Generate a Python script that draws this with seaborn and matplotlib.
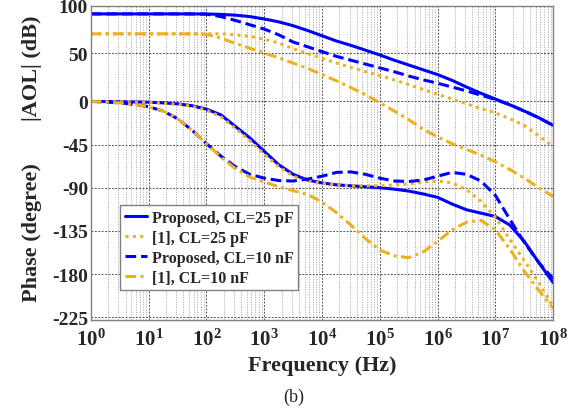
import numpy as np
import matplotlib
matplotlib.use('Agg')
import matplotlib.pyplot as plt
from matplotlib.ticker import LogLocator
import seaborn as sns

# log10 of frequency (Hz) where the curves were read
log_freq = [0, 0.25, 0.5, 0.75, 1, 1.25, 1.5, 1.75, 2, 2.25, 2.5, 2.75, 3, 3.25, 3.5, 3.75,
            4, 4.25, 4.5, 4.75, 5, 5.25, 5.5, 5.75, 6, 6.25, 6.5, 6.75, 7, 7.25, 7.5, 7.75, 8]

# |AOL| (dB)
gain_prop_25p = [91.3, 91.3, 91.3, 91.3, 91.3, 91.3, 91.3, 91.3, 91.2, 90.8, 90, 88.5, 86, 83, 79, 74,
                 68.5, 63, 58.5, 53.5, 48.5, 43, 38, 33, 28, 22, 15, 8.5, 2.5, -3.5, -10, -17, -25]
gain_ref_25p = [70.5, 70.5, 70.5, 70.5, 70.5, 70.5, 70.5, 70.5, 70.5, 70.5, 69.5, 68, 65, 61, 55, 50,
                45, 40, 35.5, 31, 27, 22.5, 17.5, 12.5, 7.5, 2.5, -2.5, -7.5, -12, -18, -25, -36, -47]
gain_prop_10n = [91.3, 91.3, 91.3, 91.3, 91.3, 91.3, 91.3, 91.2, 91, 88.5, 84.5, 80, 75.5, 69.5, 62, 57,
                 52, 47, 43, 39, 35, 31, 26.5, 22.5, 19, 15, 11, 6.5, 2, -3.5, -10, -17, -25]
gain_ref_10n = [70.5, 70.5, 70.5, 70.5, 70.5, 70.5, 70.5, 70.4, 70, 66, 60.5, 55.5, 50.5, 45.5, 40, 34.5,
                28, 21.5, 14.5, 7, -1.5, -10, -19, -29, -37, -44, -50, -56, -63, -71, -80, -90, -99]

# Phase (degree)
phase_prop_25p = [0, -0.1, -0.3, -0.5, -0.8, -1.5, -2.5, -4.5, -8, -14, -26, -38, -52, -66, -76, -82,
                  -85, -87, -88, -89, -90, -91.5, -93.5, -96.5, -100, -107, -113, -116.5, -120, -129, -146, -168, -189]
phase_ref_25p = [0, -0.1, -0.3, -0.6, -1, -1.8, -3, -5, -9, -16, -28, -41, -55, -68, -78, -83,
                 -85.5, -87, -88, -88, -88, -87, -86, -84, -83, -85, -92, -104, -121, -144, -166, -189, -214]
phase_prop_10n = [0, -0.6, -1.5, -3, -5.5, -10, -18, -30, -44, -57, -68, -76, -80, -82.5, -83, -81,
                  -78, -74, -73.5, -76, -80, -83, -83.5, -82, -78, -74, -76, -83, -98, -123, -147, -168, -185]
phase_ref_10n = [0, -0.6, -1.5, -3, -5.5, -10, -18, -30, -44, -58, -70, -79, -84, -89, -93, -97,
                 -105, -116, -129, -143, -155, -161, -163, -157, -146, -134, -126, -124, -134, -154, -177, -197, -216]

labels = ['Proposed, CL=25 pF', '[1], CL=25 pF', 'Proposed, CL=10 nF', '[1], CL=10 nF']
y_ticks = [-225, -180, -135, -90, -45, 0, 50, 100]

freq = 10.0 ** np.array(log_freq)

sns.set_theme(style='white')
plt.rcParams['font.family'] = ['Liberation Serif', 'DejaVu Serif']
plt.rcParams['font.weight'] = 'bold'
plt.rcParams['axes.unicode_minus'] = False
plt.rcParams['mathtext.fontset'] = 'custom'
plt.rcParams['mathtext.rm'] = 'Liberation Serif:bold'
plt.rcParams['mathtext.bf'] = 'Liberation Serif:bold'
plt.rcParams['mathtext.it'] = 'Liberation Serif:bold:italic'
plt.rcParams['mathtext.default'] = 'rm'

blue = '#0000ff'
orange = '#edb120'
styles = [
    (blue, '-'),
    (orange, (0, (1, 1.4))),
    (blue, (0, (3.5, 1.6))),
    (orange, (0, (3.5, 1.4, 1, 1.4))),
]
gains = [gain_prop_25p, gain_ref_25p, gain_prop_10n, gain_ref_10n]
phases = [phase_prop_25p, phase_ref_25p, phase_prop_10n, phase_ref_10n]

fig = plt.figure(figsize=(5.86, 4.10), dpi=100)
ax = fig.add_axes([0.155, 0.217, 0.789, 0.767])

for (col, ls), g, p, lab in zip(styles, gains, phases, labels):
    sns.lineplot(x=freq, y=g, ax=ax, color=col, linestyle=ls, lw=2.2, label=lab)
    sns.lineplot(x=freq, y=p, ax=ax, color=col, linestyle=ls, lw=2.2, label='_nolegend_')

ax.set_xscale('log')
ax.set_xlim(1, 1e8)
ax.set_ylim(-228, 100)
ax.set_yticks(y_ticks)
ax.xaxis.set_major_locator(LogLocator(base=10, numticks=20))
ax.xaxis.set_minor_locator(LogLocator(base=10, subs=np.arange(2, 10), numticks=200))

ax.grid(True, which='major', color='#555555', linestyle=(0, (2, 1.5)), lw=0.7)
ax.grid(True, which='minor', axis='x', color='#aaaaaa', linestyle=(0, (1.5, 1.5)), lw=0.6)
ax.tick_params(axis='x', labelsize=15, pad=6, direction='in', length=3, color='#888888')
ax.tick_params(axis='y', labelsize=14, pad=2, direction='in', length=3, color='#888888')
ax.tick_params(axis='x', which='minor', direction='in', length=2, color='#888888')
for lbl in ax.get_yticklabels():
    lbl.set_fontweight('bold')
for sp in ax.spines.values():
    sp.set_color('#808080')
    sp.set_linewidth(1)

ax.set_xlabel('Frequency (Hz)', fontsize=16, fontweight='bold', labelpad=4)
ax.set_ylabel('')
fig.text(0.055, 0.834, '|AOL| (dB)', rotation=90, ha='center', va='center',
         fontsize=16, fontweight='bold')
fig.text(0.055, 0.432, 'Phase (degree)', rotation=90, ha='center', va='center',
         fontsize=16, fontweight='bold')
fig.text(0.502, 0.032, '(b)', ha='center', va='center', fontsize=13, fontweight='normal')

leg = ax.legend(loc='upper left', bbox_to_anchor=(0.063, 0.366), fontsize=11.5,
                frameon=True, fancybox=False, framealpha=1, edgecolor='#808080',
                handlelength=1.4, handletextpad=0.3, labelspacing=0.25, borderpad=0.3,
                borderaxespad=0)
leg.get_frame().set_linewidth(1)
for t in leg.get_texts():
    t.set_fontweight('bold')

fig.savefig('out.png', dpi=100)
